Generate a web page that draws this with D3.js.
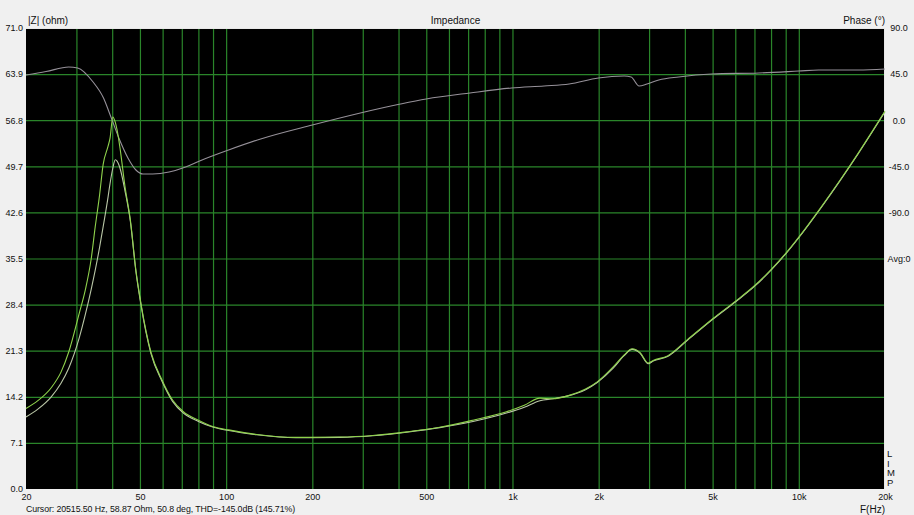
<!DOCTYPE html>
<html>
<head>
<meta charset="utf-8">
<script src="https://cdn.jsdelivr.net/npm/d3@7"></script>
<style>
html,body{margin:0;padding:0;background:#f0f0f0;}
svg{display:block;}
text{font-family:"Liberation Sans",Arial,sans-serif;font-size:10px;fill:#111;}
.num{font-size:9px;}
</style>
</head>
<body>
<svg id="chart" width="914" height="515"></svg>
<script>
// ---- data ----
const freqZ = [20, 22, 24.5, 26.5, 28.2, 30.7, 32.2, 33.8, 34.9, 36.1, 37.2, 38.7, 39.3, 40.2, 41.0, 41.6, 42.6, 44.3, 46.3, 48.4, 50.4, 54.6, 59.7, 65, 70.9, 80, 90.3, 102, 128, 175, 250, 325, 427, 557, 728, 953, 1100, 1247, 1385, 1549, 1800, 1977, 2248, 2450, 2618, 2792, 2979, 3100, 3479, 4083, 5030, 6000, 7000, 8000, 9000, 10000, 12000, 14000, 16000, 18000, 20000];
const zGreen = [12.4, 13.6, 15.6, 18.0, 21.1, 27.1, 30.6, 35.5, 40.4, 45.1, 50.0, 52.8, 54.0, 57.3, 56.5, 55.3, 52.5, 46.7, 41.4, 33.7, 28.6, 21.1, 16.8, 13.7, 11.9, 10.6, 9.6, 9.1, 8.4, 7.95, 8.0, 8.25, 8.8, 9.5, 10.6, 11.9, 12.9, 14.0, 13.9, 14.3, 15.4, 16.5, 18.8, 20.6, 21.6, 21.0, 19.4, 19.8, 20.5, 23.0, 26.3, 28.9, 31.3, 33.8, 36.3, 38.8, 43.5, 47.7, 51.5, 55.0, 58.2];
const zGray = [11.1, 12.3, 14.2, 16.3, 18.6, 23.3, 26.8, 30.8, 33.7, 37.1, 40.4, 45.0, 47.0, 49.4, 50.7, 50.5, 49.4, 46.0, 41.2, 33.5, 28.4, 20.9, 16.6, 13.5, 11.7, 10.4, 9.5, 9.0, 8.35, 7.9, 7.95, 8.2, 8.75, 9.45, 10.4, 11.7, 12.6, 13.6, 13.9, 14.3, 15.3, 16.4, 18.6, 20.5, 21.5, 20.9, 19.3, 19.7, 20.4, 22.9, 26.2, 28.8, 31.2, 33.7, 36.2, 38.7, 43.4, 47.6, 51.4, 54.9, 58.1];

const freqPhase = [20, 23.5, 28.2, 30.3, 34.3, 37.3, 39.6, 42.2, 45.4, 48.4, 51.2, 55.4, 63.2, 72.2, 80.8, 102, 132, 200, 406, 500, 711, 992, 1289, 1578, 1995, 2456, 2597, 2768, 2950, 3243, 3806, 4962, 7236, 9989, 11721, 16130, 20000];
const phaseDeg = [44.1, 47.5, 51.9, 51.0, 37.3, 21.7, 3.1, -17.4, -36.9, -48.6, -52.5, -52.5, -50.6, -45.7, -39.8, -29.1, -18.3, -4.7, 15.8, 20.7, 26.6, 31.4, 33.4, 35.3, 41.2, 43.1, 42.2, 33.4, 35.3, 39.2, 42.2, 45.1, 46.1, 48.0, 49.0, 49.0, 50.0];

const zTicks = [0, 7.1, 14.2, 21.3, 28.4, 35.5, 42.6, 49.7, 56.8, 63.9, 71.0];
const zTickLabels = ["0.0", "7.1", "14.2", "21.3", "28.4", "35.5", "42.6", "49.7", "56.8", "63.9", "71.0"];
const phaseTicks = [90, 45, 0, -45, -90, -135];
const phaseTickLabels = ["90.0", "45.0", "0.0", "-45.0", "-90.0", "Avg:0"];
const freqTicks = [20, 50, 100, 200, 500, 1000, 2000, 5000, 10000, 20000];
const freqTickLabels = ["20", "50", "100", "200", "500", "1k", "2k", "5k", "10k", "20k"];
const gridFreqs = [30, 40, 50, 60, 70, 80, 90, 100, 200, 300, 400, 500, 600, 700, 800, 900, 1000, 2000, 3000, 4000, 5000, 6000, 7000, 8000, 9000, 10000];
const gridZ = [7.1, 14.2, 21.3, 28.4, 35.5, 42.6, 49.7, 56.8, 63.9];

const titleText = "Impedance";
const leftTitle = "|Z| (ohm)";
const rightTitle = "Phase (°)";
const cursorText = "Cursor: 20515.50 Hz, 58.87 Ohm, 50.8 deg, THD=-145.0dB (145.71%)";
const xTitle = "F(Hz)";
const sideLetters = ["L", "I", "M", "P"];

// ---- layout ----
const L = 26, R = 885, T = 28, B = 489;
const svg = d3.select("#chart");

const x = d3.scaleLog().domain([20, 20000]).range([L, R]);
const yZ = d3.scaleLinear().domain([0, 71]).range([B, T]);
const yP = d3.scaleLinear().domain([-360, 90]).range([B, T]);

svg.append("rect").attr("x", L).attr("y", T).attr("width", R - L).attr("height", B - T).attr("fill", "#000");

const gridColor = "#2a852a";
svg.append("g").attr("transform", `translate(0,${B})`)
  .call(d3.axisBottom(x).tickValues(gridFreqs).tickSize(-(B - T)).tickFormat(""))
  .call(g => g.select(".domain").remove())
  .call(g => g.selectAll("line").attr("stroke", gridColor).attr("stroke-width", 1.2));
svg.append("g").attr("transform", `translate(${L},0)`)
  .call(d3.axisLeft(yZ).tickValues(gridZ).tickSize(-(R - L)).tickFormat(""))
  .call(g => g.select(".domain").remove())
  .call(g => g.selectAll("line").attr("stroke", gridColor).attr("stroke-width", 1.2));

svg.append("line").attr("x1", L).attr("x2", R).attr("y1", T + 0.5).attr("y2", T + 0.5).attr("stroke", "#e8e8e8").attr("stroke-width", 1);
svg.append("line").attr("x1", R - 0.5).attr("x2", R - 0.5).attr("y1", T).attr("y2", B).attr("stroke", "#e8e8e8").attr("stroke-width", 1);

const lineZ = vals => d3.line().x((d, i) => x(freqZ[i])).y(d => yZ(d)).curve(d3.curveMonotoneX)(vals);
svg.append("path").attr("d", d3.line().x((d, i) => x(freqPhase[i])).y(d => yP(d)).curve(d3.curveMonotoneX)(phaseDeg))
  .attr("fill", "none").attr("stroke", "#969199").attr("stroke-width", 1.1);
svg.append("path").attr("d", lineZ(zGray)).attr("fill", "none").attr("stroke", "#b9c6a6").attr("stroke-width", 1.1);
svg.append("path").attr("d", lineZ(zGreen)).attr("fill", "none").attr("stroke", "#8fd24c").attr("stroke-width", 1.1);

const styleText = g => g.selectAll("text").attr("font-family", null).attr("font-size", null).attr("fill", "#111").attr("class", "num");
svg.append("g").attr("transform", `translate(${L},0)`)
  .call(d3.axisLeft(yZ).tickValues(zTicks).tickSize(0).tickPadding(3).tickFormat((d, i) => zTickLabels[i]))
  .call(g => g.select(".domain").remove())
  .call(styleText);
svg.append("g").attr("transform", `translate(${R},0)`)
  .call(d3.axisRight(yP).tickValues(phaseTicks).tickSize(0).tickPadding(14).tickFormat((d, i) => phaseTickLabels[i]))
  .call(g => g.select(".domain").remove())
  .call(styleText)
  .call(g => g.selectAll("text").attr("text-anchor", "middle"));
svg.append("g").attr("transform", `translate(0,${B})`)
  .call(d3.axisBottom(x).tickValues(freqTicks).tickSize(0).tickPadding(5).tickFormat((d, i) => freqTickLabels[i]))
  .call(g => g.select(".domain").remove())
  .call(styleText);

svg.append("text").attr("x", (L + R) / 2).attr("y", 24).attr("text-anchor", "middle").text(titleText);
svg.append("text").attr("x", 28).attr("y", 24).text(leftTitle);
svg.append("text").attr("x", R).attr("y", 24).attr("text-anchor", "end").text(rightTitle);
svg.append("text").attr("x", L).attr("y", 512).style("font-size", "8.8px").style("letter-spacing", "-0.1px").text(cursorText);
svg.append("text").attr("x", R).attr("y", 513).attr("text-anchor", "end").text(xTitle);
svg.append("g").selectAll("text").data(sideLetters).join("text")
  .attr("x", 887).attr("y", (d, i) => 457 + i * 9.5).style("font-size", "9.5px").text(d => d);
</script>
</body>
</html>
